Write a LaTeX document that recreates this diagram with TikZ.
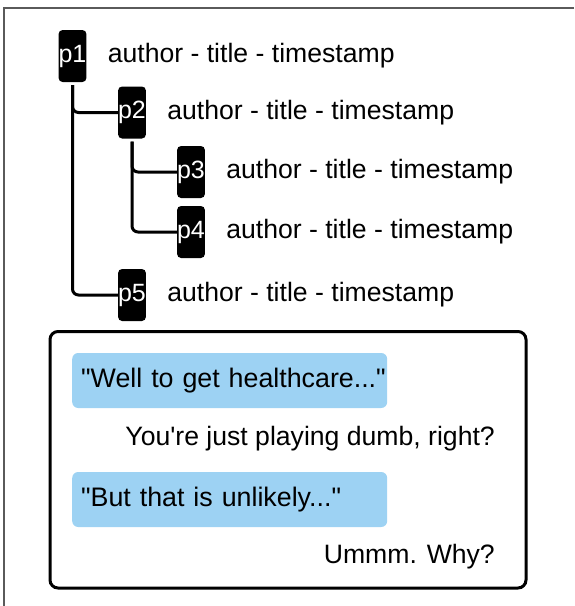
\documentclass[tikz,border=0pt]{standalone}
\usepackage{fontspec}
\setmainfont{Liberation Sans}
\newfontfamily\chatfont{Liberation Sans}
\usetikzlibrary{positioning}

\definecolor{bubble}{RGB}{157,210,243}
\definecolor{framegray}{RGB}{90,90,90}

\tikzset{
  post/.style={fill=black, text=white, rounded corners=4pt, inner sep=0pt,
    minimum width=27pt, minimum height=52pt, font=\fontsize{25}{30}\selectfont},
  info/.style={inner sep=0pt, font=\fontsize{26.6}{32}\selectfont},
  tree/.style={line width=3pt, rounded corners=6pt},
  quote/.style={fill=bubble, rounded corners=6pt, inner xsep=9pt, inner ysep=0pt,
    text width=297pt, minimum height=55pt, align=left, anchor=west,
    font=\chatfont\fontsize{26.8}{32}\selectfont},
  reply/.style={inner sep=0pt, anchor=east, font=\chatfont\fontsize{26.6}{32}\selectfont},
  chatbox/.style={draw, line width=3pt, rounded corners=8pt}
}

\begin{document}
\begin{tikzpicture}[x=1pt, y=-1pt]
\useasboundingbox (0,0) rectangle (574,606);

% outer frame (only top and left visible)
\draw[framegray, line width=2pt] (574,8) -- (4,8) -- (4,606);

% thread tree
\node[post] (p1) at (72.5,56) {p1};
\node[post] (p2) at (132,112.5) {p2};
\node[post] (p3) at (191,172) {p3};
\node[post] (p4) at (191,232) {p4};
\node[post] (p5) at (132,295) {p5};

\node[info, right=21pt of p1] (t1) {author - title - timestamp};
\node[info, right=21pt of p2] (t2) {author - title - timestamp};
\node[info, right=21pt of p3] (t3) {author - title - timestamp};
\node[info, right=21pt of p4] (t4) {author - title - timestamp};
\node[info, right=21pt of p5] (t5) {author - title - timestamp};

\draw[tree] ([yshift=-3pt]p1.south) |- (p2.west);
\draw[tree] ([yshift=-3pt]p1.south) |- (p5.west);
\draw[tree] ([yshift=-3pt]p2.south) |- (p3.west);
\draw[tree] ([yshift=-3pt]p2.south) |- (p4.west);

% conversation
\draw[chatbox] (50,331.5) rectangle (526,588);
\node[quote] (q1) at (72,380.5) {\mbox{"Well to get healthcare..."}};
\node[quote] (q2) at (72,499.5) {\mbox{"But that is unlikely..."}};
\node[reply] (r1) at (495,439) {You're just playing dumb, right?};
\node[reply] (r2) at (495,557) {Ummm. Why?};

\end{tikzpicture}
\end{document}
